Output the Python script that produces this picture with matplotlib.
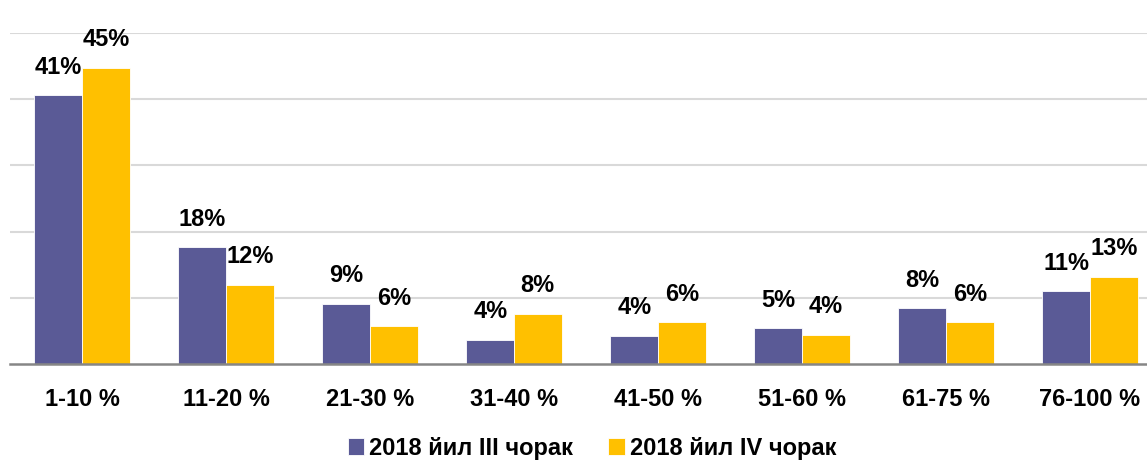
import numpy as np
import matplotlib
matplotlib.use("Agg")
import matplotlib.pyplot as plt

plt.rcParams['font.family'] = ['Liberation Sans', 'DejaVu Sans']

categories = ["1-10 %", "11-20 %", "21-30 %", "31-40 %", "41-50 %", "51-60 %", "61-75 %", "76-100 %"]
q3_2018 = [40.6, 17.6, 9.1, 3.7, 4.3, 5.4, 8.4, 11.0]
q4_2018 = [44.7, 12.0, 5.7, 7.6, 6.3, 4.4, 6.3, 13.2]
series_names = ["2018 йил III чорак", "2018 йил IV чорак"]
colors = ["#5A5A96", "#FFC000"]

W, H = 1147, 461
fig = plt.figure(figsize=(W / 100, H / 100), dpi=100)
ax = fig.add_axes([10 / W, 1 - 364 / H, 1152 / W, (364 - 33) / H])

x = np.arange(len(categories))
bw = 0.33
for i, (vals, name, c) in enumerate(zip([q3_2018, q4_2018], series_names, colors)):
    pos = x + (i - 0.5) * bw
    bars = ax.bar(pos, vals, bw, color=c, label=name, edgecolor="white", linewidth=0.6, zorder=3)
    for b, v in zip(bars, vals):
        ax.annotate(f"{v:.0f}%", (b.get_x() + b.get_width() / 2, v),
                    xytext=(0, 12), textcoords="offset points",
                    ha="center", va="bottom", fontsize=17, fontweight="bold")

ax.set_xlim(-0.5, len(categories) - 0.5)
ax.set_ylim(0, 50)
ax.set_yticks([10, 20, 30, 40, 50])
ax.yaxis.grid(True, color="#D9D9D9", linewidth=1.5, zorder=0)
ax.set_yticklabels([])
ax.tick_params(axis="y", length=0)
ax.set_xticks(x)
ax.set_xticklabels(categories, fontsize=17, fontweight="bold")
ax.tick_params(axis="x", length=0, pad=17)
for s in ["top", "right", "left"]:
    ax.spines[s].set_visible(False)
ax.spines["bottom"].set_color("#868686")
ax.spines["bottom"].set_linewidth(1.8)
ax.spines["bottom"].set_zorder(4)

fig.legend(loc="center", bbox_to_anchor=(592 / W, 1 - 448 / H), ncol=2, frameon=False,
           prop={"size": 17, "weight": "bold"}, handlelength=0.7, handleheight=0.7,
           handletextpad=0.2, columnspacing=1.5)

fig.savefig("out.png", dpi=100)
